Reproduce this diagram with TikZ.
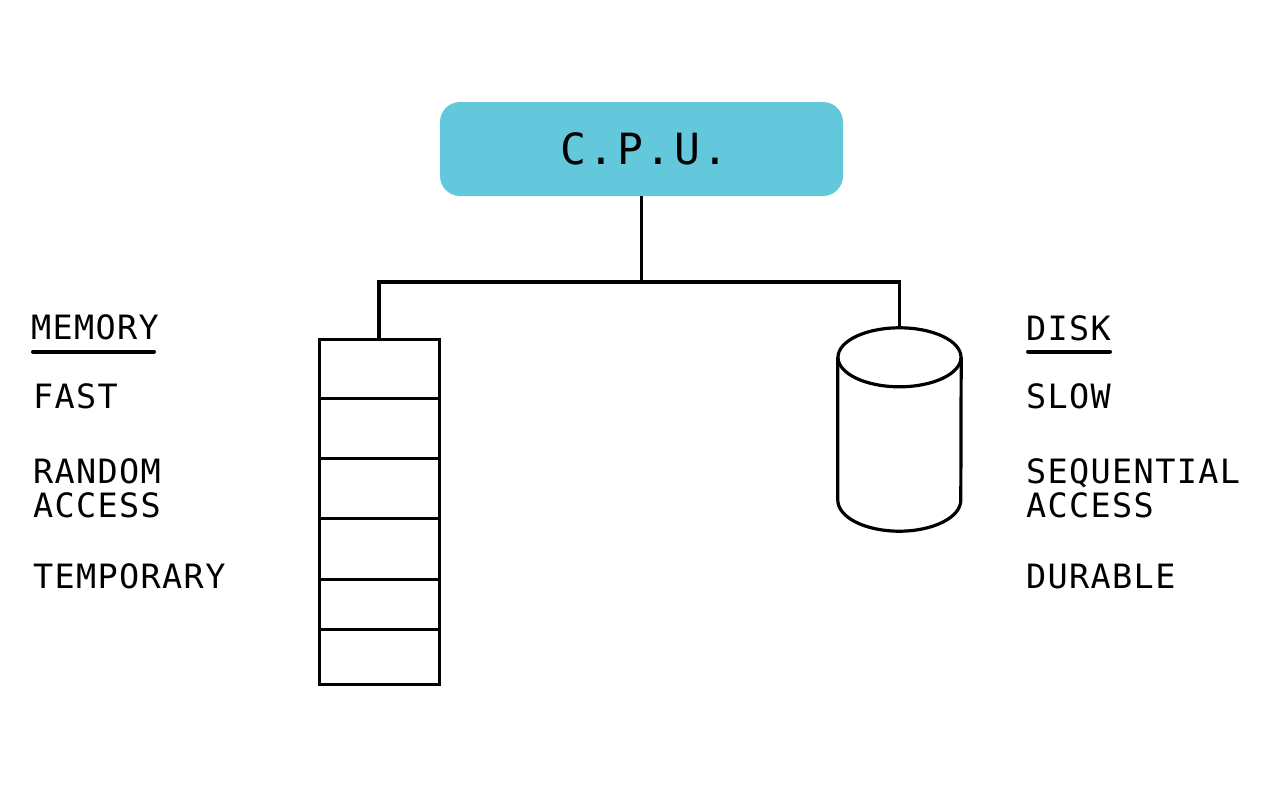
\documentclass[tikz,border=0pt]{standalone}
\usepackage{fontspec}
\newfontfamily\monofam[LetterSpace=4]{DejaVu Sans Mono}
\newfontfamily\cpufam[LetterSpace=6]{DejaVu Sans Mono}
\usetikzlibrary{calc}
\definecolor{cpublue}{HTML}{64C8DC}
\tikzset{
  wire/.style={line width=3.2pt},
  label/.style={anchor=base west, inner sep=0pt, align=left, font=\monofam\fontsize{33.5}{34}\selectfont},
  cellline/.style={line width=3.8pt},
  uline/.style={line width=4pt, line cap=round},
}
\begin{document}
\begin{tikzpicture}[x=1pt,y=-1pt]
\useasboundingbox (0,0) rectangle (1280,800);
% CPU
\node[fill=cpublue, rounded corners=20pt, minimum width=403pt, minimum height=94pt, inner sep=0pt,
  font=\cpufam\fontsize{43}{43}\selectfont] (cpu) at (641.5,149) {\hspace*{6pt}C.P.U.};
% memory stack
\node[draw, line width=3pt, minimum width=120pt, minimum height=345pt, inner sep=0pt] (ram) at (379,511.5) {};
\foreach \d in {61,121,181,242,292}
  \draw[cellline] ($(ram.north west)+(0,\d)$) -- ($(ram.north east)+(0,\d)$);
% disk
\node[minimum width=123pt, minimum height=203pt, inner sep=0pt] (disk) at (899.5,429.5) {};
\draw[wire] ($(disk.north)+(0,29.5)$) ellipse [x radius=61.5pt, y radius=29.5pt];
\draw[wire] ($(disk.north west)+(0,29.5)$) -- ($(disk.south west)+(0,-31)$)
  arc [start angle=180, end angle=360, x radius=61.5pt, y radius=31pt]
  -- ($(disk.north east)+(0,29.5)$);
% connectors
\coordinate (bus) at (639,282);
\draw[wire] (cpu.south) -- (cpu.south |- bus);
\draw[wire] (ram.north) |- (disk.north |- bus) -- (disk.north);
% labels left
\node[label] (mem) at (31,339) {MEMORY};
\draw[uline] ($(mem.base west)+(2,12.5)$) -- ($(mem.base west)+(123,12.5)$);
\node[label] (fast) at (33,408) {FAST};
\node[label] (rand) at (33,517) {RANDOM\\ACCESS};
\node[label] (temp) at (33,588) {TEMPORARY};
% labels right
\node[label] (dsk) at (1026,340) {DISK};
\draw[uline] ($(dsk.base west)+(2,11.5)$) -- ($(dsk.base west)+(84,11.5)$);
\node[label] (slow) at (1026,408) {SLOW};
\node[label] (seq) at (1026,517) {SEQUENTIAL\\ACCESS};
\node[label] (dur) at (1026,588) {DURABLE};
\end{tikzpicture}
\end{document}
